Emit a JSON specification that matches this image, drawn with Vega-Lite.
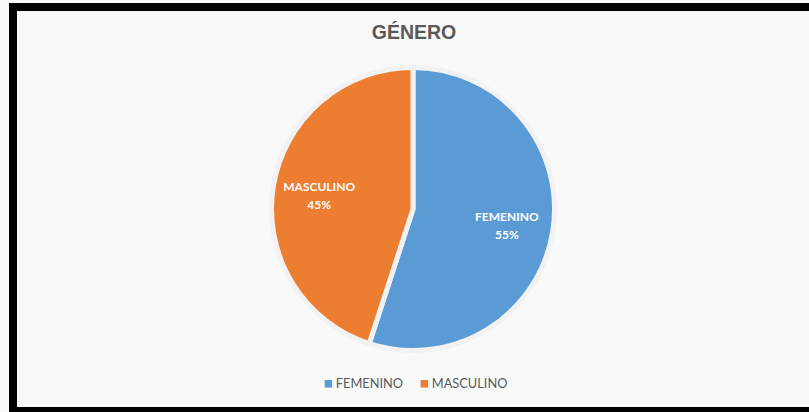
{
  "$schema": "https://vega.github.io/schema/vega-lite/v6.json",
  "width": 800,
  "height": 404,
  "autosize": {"type": "none"},
  "padding": {"left": 13, "top": 7, "right": -4, "bottom": 1},
  "background": "#f9f9f9",
  "config": {"view": {"stroke": "#000000", "strokeWidth": 8, "fill": "#f9f9f9"}},
  "title": {
    "text": "GÉNERO",
    "font": "Liberation Sans",
    "fontSize": 19.5,
    "fontWeight": "bold",
    "color": "#595959",
    "anchor": "middle",
    "baseline": "alphabetic",
    "offset": -55,
    "dx": 1
  },
  "data": {
    "values": [
      {"genero": "FEMENINO", "valor": 55, "etiqueta": "FEMENINO\n55%"},
      {"genero": "MASCULINO", "valor": 45, "etiqueta": "MASCULINO\n45%"}
    ]
  },
  "layer": [
    {
      "mark": {"type": "rect", "filled": false, "stroke": "#000000", "strokeWidth": 8},
      "encoding": {}
    },
    {
      "mark": {"type": "arc", "outerRadius": 141.5, "stroke": "#f2f2f2", "strokeWidth": 5},
      "encoding": {
        "theta": {"field": "valor", "type": "quantitative", "stack": true},
        "color": {
          "field": "genero",
          "type": "nominal",
          "scale": {"domain": ["FEMENINO", "MASCULINO"], "range": ["#5B9BD5", "#ED7D31"]},
          "legend": {
            "title": null,
            "orient": "none",
            "direction": "horizontal",
            "legendX": 309,
            "legendY": 370,
            "symbolType": "square",
            "symbolSize": 56,
            "symbolStrokeWidth": 0,
            "labelFont": "Lato",
            "labelFontSize": 12.8,
            "labelColor": "#595959",
            "labelOffset": 1,
            "columnPadding": 14,
            "padding": 0
          }
        }
      }
    },
    {
      "mark": {
        "type": "text",
        "radius": 95,
        "font": "Lato",
        "fontSize": 12,
        "fontWeight": "bold",
        "fill": "#ffffff",
        "lineBreak": "\n",
        "lineHeight": 18,
        "align": "center",
        "baseline": "middle",
        "dy": -7
      },
      "encoding": {
        "theta": {"field": "valor", "type": "quantitative", "stack": true},
        "order": {"field": "genero"},
        "text": {"field": "etiqueta", "type": "nominal"}
      }
    }
  ]
}
